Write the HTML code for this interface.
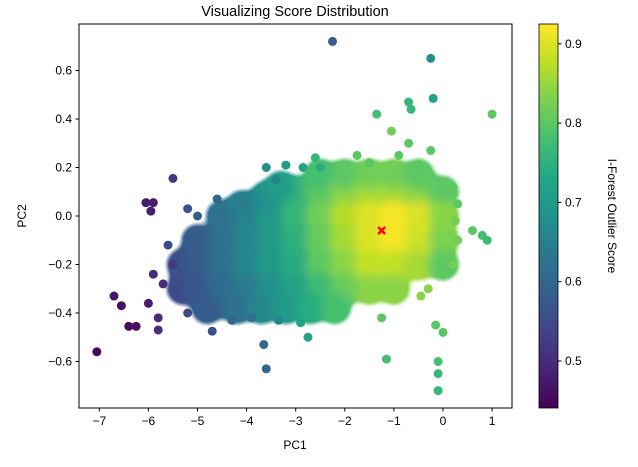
<!DOCTYPE html>
<html><head><meta charset="utf-8"><style>
body{margin:0;background:#fff;font-family:"Liberation Sans","DejaVu Sans",sans-serif}
svg text{font-family:"Liberation Sans","DejaVu Sans",sans-serif;font-size:12px;fill:#000}
</style></head><body>
<svg id="chart" width="638" height="462" viewBox="0 0 638 462">
<defs>
<linearGradient id="vir" x1="0" y1="1" x2="0" y2="0">
<stop offset="0" stop-color="#440154"/><stop offset="0.1" stop-color="#482475"/><stop offset="0.2" stop-color="#414487"/><stop offset="0.3" stop-color="#355f8d"/><stop offset="0.4" stop-color="#2a788e"/><stop offset="0.5" stop-color="#21918c"/><stop offset="0.6" stop-color="#22a884"/><stop offset="0.7" stop-color="#44bf70"/><stop offset="0.8" stop-color="#7ad151"/><stop offset="0.9" stop-color="#bddf26"/><stop offset="1" stop-color="#fde725"/>
</linearGradient>
<clipPath id="pc"><rect x="79" y="24" width="433" height="384"/></clipPath>
<filter id="soft" x="-10%" y="-10%" width="120%" height="120%">
<feGaussianBlur stdDeviation="5"/>
<feComponentTransfer><feFuncA type="linear" slope="3" intercept="-0.6"/></feComponentTransfer>
</filter>
</defs>
<text x="295" y="16" text-anchor="middle" style="font-size:14.5px">Visualizing Score Distribution</text>
<g clip-path="url(#pc)"><g id="core" filter="url(#soft)"></g><g id="marks"></g></g>
<rect x="79" y="24" width="433" height="384" fill="none" stroke="#000" stroke-width="1"/>
<g id="axes"></g>
<text x="295" y="449" text-anchor="middle">PC1</text>
<text x="0" y="0" transform="translate(26,216) rotate(-90)" text-anchor="middle">PC2</text>
<rect x="539" y="24" width="19" height="384" fill="url(#vir)" stroke="#000" stroke-width="0.8"/>
<text x="0" y="0" transform="translate(608,216) rotate(90)" text-anchor="middle">I-Forest Outlier Score</text>
</svg>
<script>
const xTicks=[-7,-6,-5,-4,-3,-2,-1,0,1];
const yTicks=[0.6,0.4,0.2,0.0,-0.2,-0.4,-0.6];
const cbTicks=[0.5,0.6,0.7,0.8,0.9];
const coreX=[-3,-2.5,-2,-1.5,-1,-0.5,0,-4.5,-4,-3.5,-3,-2.5,-2,-1.5,-1,-0.5,0,-5,-4.5,-4,-3.5,-3,-2.5,-2,-1.5,-1,-0.5,0,-5.3,-5,-4.5,-4,-3.5,-3,-2.5,-2,-1.5,-1,-0.5,0,-5.3,-5,-4.5,-4,-3.5,-3,-2.5,-2,-1.5,-1,-4.8,-4.2,-3.7,-3.2,-2.7,-2.2,-2.5,-2,-1.5,-1,-0.5,-3.6,-3.3,-4.1];
const coreY=[0.1,0.1,0.1,0.1,0.1,0.1,0.1,0,0,0,0,0,0,0,0,0,0,-0.1,-0.1,-0.1,-0.1,-0.1,-0.1,-0.1,-0.1,-0.1,-0.1,-0.1,-0.2,-0.2,-0.2,-0.2,-0.2,-0.2,-0.2,-0.2,-0.2,-0.2,-0.2,-0.2,-0.3,-0.3,-0.3,-0.3,-0.3,-0.3,-0.3,-0.3,-0.3,-0.3,-0.38,-0.38,-0.38,-0.38,-0.38,-0.38,0.17,0.17,0.17,0.17,0.17,0.08,0.12,0.04];
const coreS=[0.76,0.8,0.84,0.86,0.86,0.84,0.8,0.62,0.66,0.7,0.76,0.82,0.87,0.9,0.92,0.9,0.84,0.58,0.62,0.66,0.7,0.75,0.81,0.86,0.9,0.92,0.89,0.83,0.56,0.58,0.62,0.66,0.7,0.74,0.8,0.84,0.88,0.88,0.86,0.8,0.55,0.57,0.61,0.64,0.68,0.72,0.77,0.81,0.84,0.84,0.58,0.62,0.66,0.7,0.74,0.78,0.78,0.8,0.82,0.82,0.8,0.68,0.71,0.65];
const ptX=[-7.05,-6.7,-6.55,-6.4,-6.25,-6,-6.05,-5.9,-5.95,-5.5,-5.8,-5.9,-5.8,-4.7,-3.65,-3.6,-2.25,-0.25,-0.2,-0.7,-0.65,-1.35,1,-1.05,-2.75,-1.15,-1.25,-0.1,-0.1,-0.1,0,-0.15,0.6,0.8,0.9,0.3,0.2,-3.6,-3.2,-2.85,-2.6,-1.75,-0.25,-0.7,-4.6,-5.2,-5.6,-5.2,-3.35,-2.2,-1.8,-0.45,-0.3,-5.5,-5.7,-4.3,-3.9,-3.4,-2.5,-1.5,-0.9,0.2,0.3,0.25,-2.9,-4.0,-5.0];
const ptY=[-0.56,-0.33,-0.37,-0.455,-0.455,-0.36,0.055,0.055,0.02,0.155,-0.47,-0.24,-0.42,-0.475,-0.53,-0.63,0.72,0.65,0.485,0.47,0.44,0.42,0.42,0.35,-0.5,-0.59,-0.42,-0.72,-0.65,-0.6,-0.48,-0.45,-0.06,-0.08,-0.1,-0.1,-0.2,0.2,0.21,0.2,0.24,0.25,0.27,0.3,0.07,0.03,-0.12,-0.4,-0.43,-0.35,-0.3,-0.33,-0.3,-0.2,-0.28,-0.43,-0.42,0.15,0.2,0.22,0.25,0.12,0.05,-0.02,-0.44,0.05,0.0];
const ptS=[0.45,0.47,0.46,0.46,0.46,0.48,0.48,0.48,0.48,0.52,0.5,0.5,0.5,0.56,0.6,0.6,0.58,0.68,0.72,0.76,0.76,0.78,0.8,0.82,0.72,0.78,0.8,0.76,0.76,0.78,0.8,0.8,0.8,0.78,0.77,0.82,0.82,0.68,0.7,0.72,0.76,0.8,0.8,0.8,0.6,0.56,0.55,0.54,0.66,0.78,0.82,0.84,0.84,0.52,0.5,0.6,0.62,0.66,0.74,0.8,0.8,0.8,0.8,0.82,0.72,0.64,0.58];
const markerPC=[-1.25,-0.06];
const NS='http://www.w3.org/2000/svg';
const xS=v=>443+v*49.1, yS=v=>216-v*242.5, cS=v=>361-(v-0.5)*793;
const stops=[[68,1,84],[72,36,117],[65,68,135],[53,95,141],[42,120,142],[33,145,140],[34,168,132],[68,191,112],[122,209,81],[189,223,38],[253,231,37]];
function vir(s){let t=(s-0.44)/(0.925-0.44);t=Math.max(0,Math.min(1,t))*10;const i=Math.min(9,Math.floor(t)),f=t-i;const a=stops[i],b=stops[i+1];return 'rgb('+a.map((c,k)=>Math.round(c+(b[k]-c)*f)).join(',')+')';}
const core=document.getElementById('core'),marks=document.getElementById('marks'),axes=document.getElementById('axes');
function mk(tag,attrs,parent){const e=document.createElementNS(NS,tag);for(const k in attrs)e.setAttribute(k,attrs[k]);parent.appendChild(e);return e;}
coreX.forEach((x,i)=>{const c=mk('circle',{cx:xS(x),cy:yS(coreY[i]),r:15,fill:vir(coreS[i])},core);

});
ptX.forEach((x,i)=>{const c=mk('circle',{cx:xS(x),cy:yS(ptY[i]),r:4.5,fill:vir(ptS[i])},marks);

});
const mx=xS(markerPC[0]),my=yS(markerPC[1]);
const xm=mk('path',{d:`M${mx-3.5},${my-3.5}L${mx+3.5},${my+3.5}M${mx-3.5},${my+3.5}L${mx+3.5},${my-3.5}`,stroke:'#ff0000','stroke-width':2.5},marks);


xTicks.forEach(v=>{const x=xS(v);mk('line',{x1:x,x2:x,y1:408,y2:411.5,stroke:'#000'},axes);
const t=mk('text',{x:x,y:425,'text-anchor':'middle'},axes);t.textContent=(v<0?'\u2212'+(-v):v);

});
yTicks.forEach(v=>{const y=yS(v);mk('line',{x1:75.5,x2:79,y1:y,y2:y,stroke:'#000'},axes);
const t=mk('text',{x:72,y:y+4,'text-anchor':'end'},axes);t.textContent=(v<0?'\u2212':'')+Math.abs(v).toFixed(1);

});
cbTicks.forEach(v=>{const y=cS(v);mk('line',{x1:558,x2:561.5,y1:y,y2:y,stroke:'#000'},axes);
const t=mk('text',{x:565,y:y+4},axes);t.textContent=v.toFixed(1);

});
</script>
</body></html>
